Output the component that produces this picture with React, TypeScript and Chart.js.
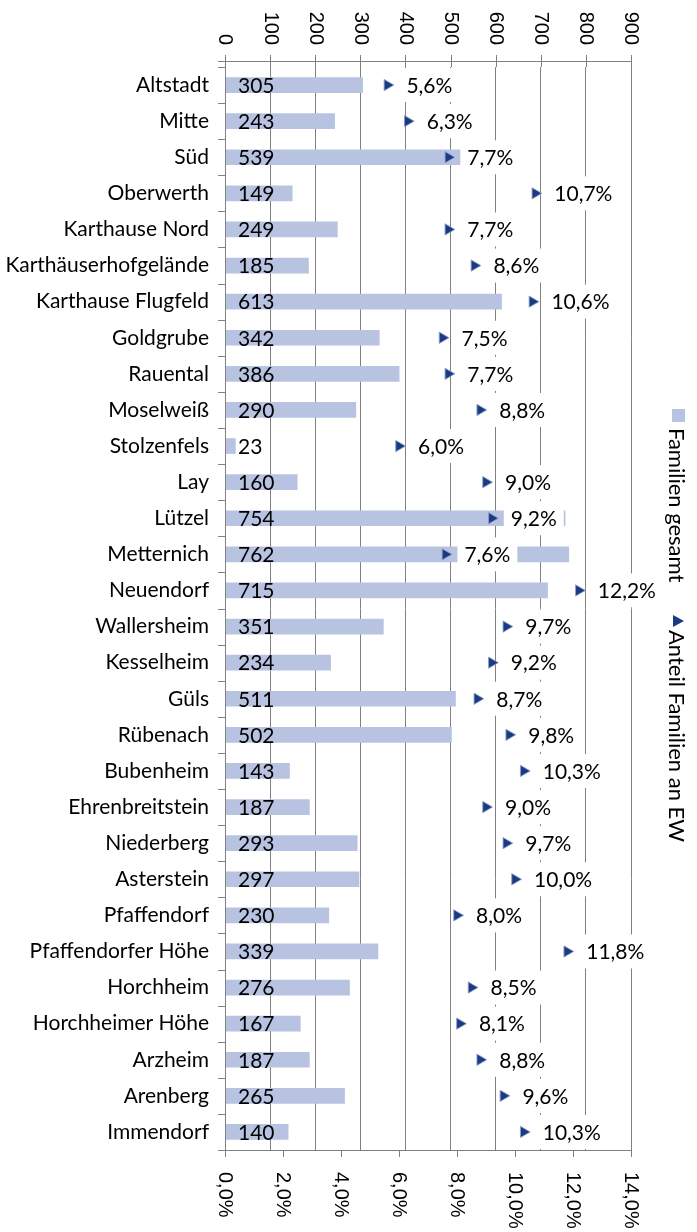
import { useEffect, useRef } from 'react';
import { Chart, registerables } from 'chart.js';

Chart.register(...registerables);

const categories = [
  'Altstadt', 'Mitte', 'Süd', 'Oberwerth', 'Karthause Nord', 'Karthäuserhofgelände',
  'Karthause Flugfeld', 'Goldgrube', 'Rauental', 'Moselweiß', 'Stolzenfels', 'Lay',
  'Lützel', 'Metternich', 'Neuendorf', 'Wallersheim', 'Kesselheim', 'Güls', 'Rübenach',
  'Bubenheim', 'Ehrenbreitstein', 'Niederberg', 'Asterstein', 'Pfaffendorf',
  'Pfaffendorfer Höhe', 'Horchheim', 'Horchheimer Höhe', 'Arzheim', 'Arenberg', 'Immendorf',
];

const familienGesamt = [
  305, 243, 539, 149, 249, 185, 613, 342, 386, 290, 23, 160, 754, 762, 715,
  351, 234, 511, 502, 143, 187, 293, 297, 230, 339, 276, 167, 187, 265, 140,
];

const anteilFamilien = [
  5.6, 6.3, 7.7, 10.7, 7.7, 8.6, 10.6, 7.5, 7.7, 8.8, 6.0, 9.0, 9.2, 7.6, 12.2,
  9.7, 9.2, 8.7, 9.8, 10.3, 9.0, 9.7, 10.0, 8.0, 11.8, 8.5, 8.1, 8.8, 9.6, 10.3,
];

const topTickValues = [0, 100, 200, 300, 400, 500, 600, 700, 800, 900];
const bottomTickValues = [0, 2, 4, 6, 8, 10, 12, 14];
const seriesNames = ['Familien gesamt', 'Anteil Familien an EW'];

const BAR_COLOR = '#B8C3E1';
const MARKER_COLOR = '#1B3A80';
const AXIS_COLOR = '#808080';
const LABEL_FONT = '21px Lato, "Open Sans", sans-serif';
const LEGEND_FONT = '22px Lato, "Open Sans", sans-serif';
const AXIS_FONT = '20px "Liberation Sans", Arial, sans-serif';

const fmtPct = (v: number) => v.toFixed(1).replace('.', ',') + '%';

const drawPlugin = {
  id: 'customDraw',
  afterDatasetsDraw(chart: any) {
    const { ctx, chartArea: a, scales } = chart;
    const x = scales.x;
    const x2 = scales.x2;
    const y = scales.y;
    const r = (v: number) => Math.round(v) + 0.5;
    const line = (x1: number, y1: number, xe: number, ye: number) => {
      ctx.beginPath();
      ctx.moveTo(x1, y1);
      ctx.lineTo(xe, ye);
      ctx.stroke();
    };
    ctx.save();
    ctx.strokeStyle = AXIS_COLOR;
    ctx.lineWidth = 1;
    const topY = a.top - 6;

    // top axis
    line(a.left - 7, r(topY), a.right + 1, r(topY));
    topTickValues.forEach((v) => {
      const px = r(x.getPixelForValue(v));
      line(px, topY - 6, px, a.top);
    });
    // left axis
    line(r(a.left), topY, r(a.left), a.bottom);
    for (let i = 0; i <= categories.length; i++) {
      const py =
        i === 0
          ? a.top
          : i === categories.length
          ? a.bottom
          : (y.getPixelForValue(i - 1) + y.getPixelForValue(i)) / 2;
      line(a.left - 7, r(py), a.left, r(py));
    }
    // bottom axis
    line(a.left - 7, r(a.bottom), a.right + 1, r(a.bottom));
    bottomTickValues.forEach((v) => {
      const px = r(x2.getPixelForValue(v));
      line(px, a.bottom, px, a.bottom + 7);
    });

    // axis labels
    ctx.fillStyle = '#000';
    ctx.font = AXIS_FONT;
    topTickValues.forEach((v) => {
      ctx.save();
      ctx.translate(x.getPixelForValue(v), 45);
      ctx.rotate(Math.PI / 2);
      ctx.textAlign = 'right';
      ctx.textBaseline = 'middle';
      ctx.fillText(String(v), 0, 0);
      ctx.restore();
    });
    bottomTickValues.forEach((v) => {
      ctx.save();
      ctx.translate(x2.getPixelForValue(v), a.bottom + 22);
      ctx.rotate(Math.PI / 2);
      ctx.textAlign = 'left';
      ctx.textBaseline = 'middle';
      ctx.fillText(fmtPct(v), 0, 0);
      ctx.restore();
    });

    // value labels
    ctx.font = LABEL_FONT;
    ctx.textAlign = 'left';
    ctx.textBaseline = 'middle';
    const barMeta = chart.getDatasetMeta(0);
    barMeta.data.forEach((el: any, i: number) => {
      ctx.fillStyle = '#000';
      ctx.fillText(String(familienGesamt[i]), x.getPixelForValue(0) + 13, el.y + 1);
    });

    // percentage labels
    const ptMeta = chart.getDatasetMeta(1);
    ptMeta.data.forEach((el: any, i: number) => {
      const t = fmtPct(anteilFamilien[i]);
      const w = ctx.measureText(t).width;
      ctx.fillStyle = '#fff';
      ctx.fillRect(el.x + 12, el.y - 17, w + 14, 34);
      ctx.fillStyle = '#000';
      ctx.fillText(t, el.x + 19, el.y + 1);
    });

    // legend
    ctx.fillStyle = BAR_COLOR;
    ctx.fillRect(672, 409, 13, 13);
    ctx.fillStyle = MARKER_COLOR;
    ctx.beginPath();
    ctx.moveTo(684, 621);
    ctx.lineTo(673, 615);
    ctx.lineTo(673, 627);
    ctx.closePath();
    ctx.fill();
    ctx.fillStyle = '#000';
    ctx.font = LEGEND_FONT;
    ctx.textAlign = 'left';
    ctx.textBaseline = 'alphabetic';
    [
      [seriesNames[0], 428],
      [seriesNames[1], 630],
    ].forEach(([name, yy]) => {
      ctx.save();
      ctx.translate(669, yy as number);
      ctx.rotate(Math.PI / 2);
      ctx.fillText(name as string, 0, 0);
      ctx.restore();
    });
    ctx.restore();
  },
};

export default function App() {
  const ref = useRef<HTMLCanvasElement>(null);
  useEffect(() => {
    const chart = new Chart(ref.current as HTMLCanvasElement, {
      type: 'bar',
      data: {
        labels: categories,
        datasets: [
          {
            type: 'bar',
            label: seriesNames[0],
            data: familienGesamt,
            backgroundColor: BAR_COLOR,
            borderWidth: 0,
            barThickness: 15,
            xAxisID: 'x',
            yAxisID: 'y',
            order: 1,
          } as any,
          {
            type: 'line',
            label: seriesNames[1],
            data: anteilFamilien,
            indexAxis: 'y',
            showLine: false,
            pointStyle: 'triangle',
            pointRotation: 90,
            pointRadius: 6.5,
            pointHoverRadius: 6.5,
            pointBackgroundColor: MARKER_COLOR,
            pointBorderColor: 'rgba(140,160,210,0.9)',
            pointBorderWidth: 1,
            xAxisID: 'x2',
            yAxisID: 'y',
            order: 0,
          } as any,
        ],
      },
      options: {
        indexAxis: 'y',
        responsive: false,
        animation: false,
        devicePixelRatio: 1,
        events: [],
        layout: { padding: { left: 0, right: 66, top: 0, bottom: 0 } },
        plugins: { legend: { display: false }, tooltip: { enabled: false } },
        scales: {
          x: {
            type: 'linear',
            position: 'top',
            min: 0,
            max: 900,
            ticks: { display: false, stepSize: 100 },
            grid: { color: AXIS_COLOR, drawTicks: false, lineWidth: 1 },
            border: { display: false },
            afterFit: (s: any) => {
              s.height = 67;
            },
          },
          x2: {
            type: 'linear',
            position: 'bottom',
            min: 0,
            max: 14,
            ticks: { display: false, stepSize: 2 },
            grid: { display: false, drawTicks: false },
            border: { display: false },
            afterFit: (s: any) => {
              s.height = 82;
            },
          },
          y: {
            type: 'category',
            position: 'left',
            offset: true,
            ticks: {
              autoSkip: false,
              padding: 16,
              color: '#000',
              font: { family: 'Lato, "Open Sans", sans-serif', size: 21 },
            },
            grid: { display: false, drawTicks: false },
            border: { display: false },
            afterFit: (s: any) => {
              s.width = 225;
            },
          },
        } as any,
      },
      plugins: [drawPlugin],
    });
    return () => chart.destroy();
  }, []);
  return (
    <div style={{ position: 'absolute', left: 0, top: 0, width: 697, height: 1232, background: '#fff' }}>
      <canvas ref={ref} width={697} height={1232} style={{ display: 'block', width: 697, height: 1232 }} />
    </div>
  );
}
